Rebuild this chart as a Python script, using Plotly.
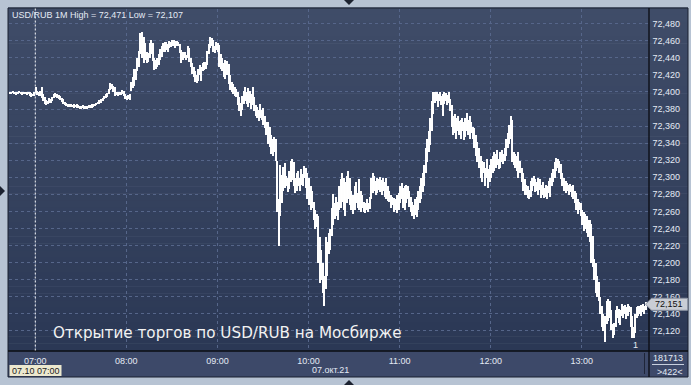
import plotly.graph_objects as go
import pandas as pd

W, H = 691, 385

# One-minute USD/RUB bars, 07.10.2021 from 06:43 (high / low, rubles)
HIGH = [
    72.401, 72.401, 72.402, 72.401, 72.400, 72.401, 72.402, 72.401, 72.400, 72.401,
    72.401, 72.400, 72.401, 72.400, 72.399, 72.398, 72.400, 72.407, 72.402, 72.400,
    72.402, 72.407, 72.398, 72.395, 72.391, 72.390, 72.393, 72.392, 72.395, 72.398,
    72.399, 72.398, 72.397, 72.396, 72.394, 72.392, 72.389, 72.388, 72.387, 72.386,
    72.386, 72.385, 72.386, 72.385, 72.386, 72.385, 72.384, 72.384, 72.385, 72.384,
    72.384, 72.384, 72.385, 72.385, 72.386, 72.386, 72.387, 72.388, 72.389, 72.391,
    72.392, 72.394, 72.396, 72.398, 72.399, 72.404, 72.411, 72.410, 72.408, 72.406,
    72.401, 72.400, 72.401, 72.401, 72.403, 72.402, 72.398, 72.396, 72.397, 72.398,
    72.412, 72.418, 72.428, 72.428, 72.440, 72.449, 72.470, 72.471, 72.465, 72.458,
    72.447, 72.446, 72.458, 72.461, 72.458, 72.441, 72.438, 72.441, 72.445, 72.451,
    72.455, 72.458, 72.459, 72.459, 72.457, 72.460, 72.459, 72.461, 72.461, 72.460,
    72.460, 72.459, 72.457, 72.450, 72.448, 72.447, 72.444, 72.455, 72.452, 72.440,
    72.435, 72.430, 72.425, 72.420, 72.428, 72.432, 72.430, 72.435, 72.436, 72.436,
    72.449, 72.457, 72.465, 72.464, 72.461, 72.455, 72.459, 72.458, 72.456, 72.445,
    72.441, 72.434, 72.438, 72.437, 72.433, 72.420, 72.412, 72.410, 72.406, 72.404,
    72.400, 72.395, 72.388, 72.396, 72.402, 72.406, 72.400, 72.405, 72.402, 72.398,
    72.406, 72.395, 72.385, 72.383, 72.380, 72.387, 72.380, 72.382, 72.372, 72.365,
    72.365, 72.360, 72.350, 72.345, 72.348, 72.345, 72.320, 72.275, 72.315, 72.303,
    72.313, 72.317, 72.302, 72.300, 72.308, 72.320, 72.322, 72.318, 72.300, 72.305,
    72.308, 72.300, 72.310, 72.304, 72.314, 72.312, 72.306, 72.300, 72.290, 72.285,
    72.272, 72.262, 72.258, 72.255, 72.230, 72.215, 72.200, 72.185, 72.230, 72.225,
    72.235, 72.240, 72.265, 72.281, 72.270, 72.278, 72.272, 72.290, 72.298, 72.305,
    72.300, 72.295, 72.302, 72.308, 72.300, 72.285, 72.280, 72.290, 72.295, 72.282,
    72.298, 72.285, 72.280, 72.272, 72.270, 72.275, 72.270, 72.278, 72.300, 72.305,
    72.302, 72.296, 72.300, 72.298, 72.301, 72.297, 72.300, 72.295, 72.300, 72.290,
    72.285, 72.280, 72.277, 72.276, 72.275, 72.280, 72.282, 72.290, 72.294, 72.288,
    72.290, 72.292, 72.290, 72.285, 72.278, 72.272, 72.268, 72.275, 72.278, 72.285,
    72.290, 72.300, 72.305, 72.315, 72.335, 72.345, 72.355, 72.370, 72.390, 72.400,
    72.400, 72.401, 72.398, 72.400, 72.396, 72.398, 72.400, 72.399, 72.397, 72.401,
    72.392, 72.385, 72.372, 72.375, 72.370, 72.372, 72.366, 72.368, 72.370, 72.365,
    72.370, 72.376, 72.368, 72.372, 72.365, 72.360, 72.358, 72.350, 72.342, 72.335,
    72.325, 72.320, 72.318, 72.312, 72.322, 72.310, 72.315, 72.322, 72.325, 72.330,
    72.328, 72.332, 72.322, 72.330, 72.332, 72.328, 72.335, 72.345, 72.352, 72.362,
    72.372, 72.368, 72.330, 72.328, 72.326, 72.330, 72.320, 72.312, 72.305, 72.298,
    72.292, 72.290, 72.286, 72.296, 72.300, 72.302, 72.298, 72.295, 72.300, 72.298,
    72.292, 72.295, 72.288, 72.292, 72.290, 72.296, 72.300, 72.305, 72.310, 72.318,
    72.323, 72.322, 72.320, 72.316, 72.305, 72.300, 72.296, 72.294, 72.292, 72.293,
    72.290, 72.292, 72.285, 72.282, 72.275, 72.272, 72.270, 72.262, 72.260, 72.258,
    72.255, 72.250, 72.250, 72.246, 72.232, 72.205, 72.200, 72.185, 72.178, 72.160,
    72.150, 72.140, 72.138, 72.155, 72.158, 72.155, 72.145, 72.128, 72.130, 72.145,
    72.150, 72.146, 72.145, 72.152, 72.150, 72.151, 72.148, 72.152, 72.150, 72.148,
    72.138, 72.125, 72.140, 72.148, 72.150, 72.149, 72.151, 72.152, 72.150, 72.154,
]
LOW = [
    72.399, 72.398, 72.399, 72.399, 72.398, 72.398, 72.399, 72.398, 72.398, 72.399,
    72.398, 72.398, 72.398, 72.396, 72.395, 72.396, 72.396, 72.399, 72.397, 72.396,
    72.396, 72.394, 72.390, 72.387, 72.385, 72.386, 72.388, 72.388, 72.390, 72.394,
    72.395, 72.394, 72.392, 72.391, 72.389, 72.386, 72.385, 72.384, 72.383, 72.383,
    72.383, 72.383, 72.382, 72.383, 72.382, 72.382, 72.381, 72.381, 72.382, 72.381,
    72.381, 72.381, 72.382, 72.382, 72.382, 72.383, 72.384, 72.385, 72.386, 72.387,
    72.388, 72.390, 72.392, 72.394, 72.395, 72.398, 72.403, 72.404, 72.400, 72.396,
    72.397, 72.396, 72.397, 72.397, 72.398, 72.396, 72.392, 72.391, 72.392, 72.391,
    72.402, 72.405, 72.408, 72.415, 72.425, 72.430, 72.445, 72.440, 72.435, 72.438,
    72.434, 72.436, 72.440, 72.445, 72.437, 72.426, 72.428, 72.430, 72.432, 72.438,
    72.442, 72.447, 72.448, 72.450, 72.447, 72.452, 72.453, 72.454, 72.455, 72.452,
    72.455, 72.454, 72.446, 72.435, 72.438, 72.440, 72.438, 72.440, 72.436, 72.430,
    72.422, 72.418, 72.412, 72.411, 72.414, 72.420, 72.414, 72.425, 72.426, 72.428,
    72.432, 72.445, 72.452, 72.455, 72.448, 72.446, 72.450, 72.447, 72.430, 72.428,
    72.425, 72.418, 72.416, 72.420, 72.410, 72.403, 72.400, 72.398, 72.396, 72.395,
    72.385, 72.378, 72.373, 72.380, 72.386, 72.390, 72.387, 72.383, 72.388, 72.381,
    72.385, 72.378, 72.372, 72.370, 72.366, 72.370, 72.368, 72.362, 72.358, 72.350,
    72.340, 72.336, 72.328, 72.325, 72.330, 72.320, 72.260, 72.220, 72.255, 72.270,
    72.285, 72.288, 72.290, 72.283, 72.287, 72.295, 72.297, 72.290, 72.282, 72.285,
    72.290, 72.285, 72.292, 72.290, 72.300, 72.288, 72.275, 72.268, 72.262, 72.265,
    72.250, 72.240, 72.242, 72.200, 72.176, 72.180, 72.165, 72.150, 72.170, 72.185,
    72.210, 72.215, 72.232, 72.245, 72.252, 72.255, 72.250, 72.262, 72.265, 72.272,
    72.262, 72.255, 72.270, 72.275, 72.268, 72.262, 72.258, 72.262, 72.270, 72.265,
    72.262, 72.260, 72.265, 72.260, 72.259, 72.262, 72.260, 72.263, 72.275, 72.282,
    72.285, 72.280, 72.282, 72.286, 72.283, 72.280, 72.284, 72.278, 72.275, 72.273,
    72.272, 72.265, 72.268, 72.260, 72.262, 72.259, 72.262, 72.270, 72.275, 72.265,
    72.262, 72.270, 72.275, 72.266, 72.260, 72.255, 72.252, 72.256, 72.254, 72.262,
    72.270, 72.275, 72.283, 72.290, 72.305, 72.318, 72.330, 72.338, 72.355, 72.375,
    72.388, 72.390, 72.383, 72.390, 72.385, 72.372, 72.386, 72.390, 72.385, 72.388,
    72.378, 72.360, 72.350, 72.352, 72.345, 72.355, 72.350, 72.345, 72.355, 72.344,
    72.348, 72.355, 72.350, 72.346, 72.352, 72.345, 72.335, 72.325, 72.318, 72.312,
    72.300, 72.295, 72.305, 72.290, 72.300, 72.288, 72.295, 72.300, 72.305, 72.308,
    72.312, 72.315, 72.310, 72.312, 72.318, 72.316, 72.320, 72.325, 72.335, 72.340,
    72.345, 72.318, 72.315, 72.312, 72.308, 72.300, 72.305, 72.295, 72.285, 72.280,
    72.280, 72.276, 72.275, 72.278, 72.285, 72.290, 72.283, 72.285, 72.280, 72.286,
    72.276, 72.280, 72.276, 72.278, 72.275, 72.282, 72.278, 72.290, 72.295, 72.300,
    72.308, 72.312, 72.305, 72.298, 72.290, 72.285, 72.282, 72.284, 72.280, 72.283,
    72.278, 72.275, 72.270, 72.262, 72.258, 72.262, 72.255, 72.245, 72.238, 72.240,
    72.235, 72.230, 72.225, 72.200, 72.195, 72.180, 72.165, 72.160, 72.155, 72.140,
    72.125, 72.120, 72.107, 72.128, 72.132, 72.135, 72.122, 72.112, 72.115, 72.125,
    72.135, 72.130, 72.127, 72.138, 72.135, 72.140, 72.134, 72.138, 72.142, 72.125,
    72.112, 72.112, 72.118, 72.135, 72.138, 72.140, 72.138, 72.142, 72.140, 72.145,
]

SESSION_START = "2021-10-07 06:43"
PRICE_TICKS = [72.12, 72.14, 72.16, 72.18, 72.20, 72.22, 72.24, 72.26, 72.28,
               72.30, 72.32, 72.34, 72.36, 72.38, 72.40, 72.42, 72.44, 72.46, 72.48]
HOUR_TICKS = ["2021-10-07 07:00", "2021-10-07 08:00", "2021-10-07 09:00",
              "2021-10-07 10:00", "2021-10-07 11:00", "2021-10-07 12:00",
              "2021-10-07 13:00"]
HOUR_LABELS = ["07:00", "08:00", "09:00", "10:00", "11:00", "12:00", "13:00"]
CURSOR_TIME = "2021-10-07 07:00"

TITLE = "USD/RUB 1M High = 72,471 Low = 72,107"
CAPTION = "Открытие торгов по USD/RUB на Мосбирже"
CURSOR_LABEL = "07.10 07:00"
DATE_LABEL = "07.окт.21"
LAST_PRICE = 72.151
VOLUME = "181713"
BAR_COUNT = ">422<"

FONT = "Liberation Sans, Arial, sans-serif"
CAPTION_FONT = "DejaVu Sans, Verdana, sans-serif"
TEXT = "#e4eaf4"

times = pd.date_range(SESSION_START, periods=len(HIGH), freq="min")
spans = [h - l for h, l in zip(HIGH, LOW)]


def px(x):
    return x / W


def py(y):
    return 1 - y / H


# Panel geometry (pixels)
L, R, T, B = 8.5, 648.5, 8.5, 350.5
AXIS_R = 688
STRIP_B = 377

fig = go.Figure()
# opacity just below 1 makes plotly snap each thin bar to whole pixels
fig.add_trace(go.Bar(
    x=times, y=spans, base=LOW, width=44000,
    marker=dict(color="#ffffff", opacity=0.995, line=dict(width=0)),
    hoverinfo="skip", showlegend=False,
))

shapes = []
# vertical gradient behind the plot and the price scale
top_rgb = (63, 76, 104)
bot_rgb = (43, 56, 85)
n = 48
for i in range(n):
    f = i / (n - 1)
    c = tuple(round(a + (b - a) * f) for a, b in zip(top_rgb, bot_rgb))
    y0 = T - 1 + (B - T + 1) * i / n
    y1 = T - 1 + (B - T + 1) * (i + 1) / n
    shapes.append(dict(type="rect", xref="paper", yref="paper", layer="below",
                       x0=px(L - 0.5), x1=px(AXIS_R), y0=py(y1 + 0.5), y1=py(y0),
                       fillcolor="rgb(%d,%d,%d)" % c, line=dict(width=0)))
# time strip under the plot
shapes.append(dict(type="rect", xref="paper", yref="paper", layer="below",
                   x0=px(L - 0.5), x1=px(AXIS_R), y0=py(STRIP_B), y1=py(B),
                   fillcolor="#3d4969", line=dict(width=0)))
# panel frame
shapes.append(dict(type="rect", xref="paper", yref="paper", layer="above",
                   x0=px(L - 0.5), x1=px(AXIS_R), y0=py(STRIP_B), y1=py(T - 0.5),
                   line=dict(color="#1b2030", width=1)))
# separators: price scale and time strip
shapes.append(dict(type="line", xref="paper", yref="paper", layer="above",
                   x0=px(R + 0.5), x1=px(R + 0.5), y0=py(STRIP_B), y1=py(T - 0.5),
                   line=dict(color="#0a0c12", width=1.3)))
shapes.append(dict(type="line", xref="paper", yref="paper", layer="above",
                   x0=px(L - 0.5), x1=px(AXIS_R), y0=py(B + 0.5), y1=py(B + 0.5),
                   line=dict(color="#0a0c12", width=1.3)))
shapes.append(dict(type="line", xref="paper", yref="paper", layer="above",
                   x0=px(644.5), x1=px(644.5), y0=py(374), y1=py(353),
                   line=dict(color="#1e2538", width=1)))
shapes.append(dict(type="line", xref="paper", yref="paper", layer="above",
                   x0=px(652), x1=px(684), y0=py(364.5), y1=py(364.5),
                   line=dict(color="#c8d0de", width=1)))
# crosshair at the cursor time
shapes.append(dict(type="line", xref="x", yref="paper", layer="above",
                   x0=CURSOR_TIME, x1=CURSOR_TIME, y0=py(B), y1=py(T),
                   line=dict(color="#f4f4f4", width=1, dash="2px,2px")))
# cursor time badge
shapes.append(dict(type="rect", xref="paper", yref="paper", layer="above",
                   x0=px(9.5), x1=px(61.5), y0=py(376), y1=py(365),
                   fillcolor="#ece8cf", line=dict(width=0)))
# last price marker on the scale
ly = 330.7 - (LAST_PRICE - 72.12) * 1000 * 0.8525
shapes.append(dict(type="path", xref="paper", yref="paper", layer="above",
                   path="M %f %f L %f %f L %f %f L %f %f L %f %f Z" % (
                       px(645.5), py(ly), px(651.5), py(ly - 6),
                       px(687.5), py(ly - 6), px(687.5), py(ly + 6),
                       px(651.5), py(ly + 6)),
                   fillcolor="#c9cdd5", line=dict(color="#8d95a5", width=1)))
# frame arrows
for path in [
    "M %f %f L %f %f L %f %f Z" % (px(344), py(0), px(354), py(0), px(349), py(5)),
    "M %f %f L %f %f L %f %f Z" % (px(0), py(186), px(0), py(196), px(5), py(191)),
    "M %f %f L %f %f L %f %f Z" % (px(344), py(385), px(354), py(385), px(349), py(380)),
]:
    shapes.append(dict(type="path", xref="paper", yref="paper", layer="above",
                       path=path, fillcolor="#1c2230", line=dict(width=0)))

annotations = [
    dict(x=px(10), y=py(15), text=TITLE, xanchor="left", yanchor="middle",
         font=dict(size=9, color=TEXT)),
    dict(x=px(51), y=py(333), text=CAPTION, xanchor="left", yanchor="middle",
         font=dict(family=CAPTION_FONT, size=15.2, color="#f2f2f2")),
    dict(x=px(35.5), y=py(370.5), text=CURSOR_LABEL, xanchor="center", yanchor="middle",
         font=dict(size=9, color="#1c1c1c")),
    dict(x=px(330), y=py(369.5), text=DATE_LABEL, xanchor="center", yanchor="middle",
         font=dict(size=9, color=TEXT)),
    dict(x=px(668), y=py(358), text=VOLUME, xanchor="center", yanchor="middle",
         font=dict(size=9, color=TEXT)),
    dict(x=px(669.5), y=py(371.5), text=BAR_COUNT, xanchor="center", yanchor="middle",
         font=dict(size=9, color=TEXT)),
    dict(x=px(669), y=py(ly), text=("%.3f" % LAST_PRICE).replace(".", ","),
         xanchor="center", yanchor="middle", font=dict(size=9, color="#101010")),
    dict(x=px(635), y=py(345), text="1", xanchor="center", yanchor="middle",
         font=dict(size=9, color=TEXT)),
]
for a in annotations:
    a.update(xref="paper", yref="paper", showarrow=False)

fig.update_layout(
    width=W, height=H,
    margin=dict(l=0, r=0, t=0, b=0),
    paper_bgcolor="#b7c3d3",
    plot_bgcolor="rgba(0,0,0,0)",
    font=dict(family=FONT, size=9, color=TEXT),
    separators=", ",
    bargap=0,
    shapes=shapes,
    annotations=annotations,
    xaxis=dict(
        domain=[px(L), px(R)],
        range=["2021-10-07 06:42:21", "2021-10-07 13:43:57"],
        tickmode="array", tickvals=HOUR_TICKS, ticktext=HOUR_LABELS,
        showgrid=True, gridcolor="#56668a", gridwidth=1, griddash="3px,3px",
        showline=False, zeroline=False, ticks="",
        tickfont=dict(size=9, color=TEXT), ticklabelstandoff=3,
        fixedrange=True,
    ),
    yaxis=dict(
        domain=[py(B), py(T)],
        range=[72.0968, 72.4979],
        side="right",
        tickmode="array", tickvals=PRICE_TICKS, tickformat=".3f",
        showgrid=True, gridcolor="#56668a", gridwidth=1, griddash="3px,3px",
        showline=False, zeroline=False, ticks="",
        tickfont=dict(size=9, color=TEXT), ticklabelstandoff=3,
        fixedrange=True,
    ),
)

fig.write_html("out.html")
